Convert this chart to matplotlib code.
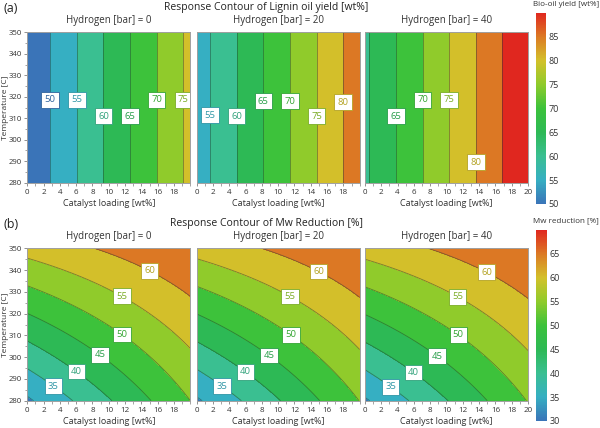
import numpy as np
import matplotlib
matplotlib.use("Agg")
import matplotlib.pyplot as plt
from matplotlib.colors import LinearSegmentedColormap, Normalize, to_rgb
from matplotlib.cm import ScalarMappable
from matplotlib.ticker import MultipleLocator

plt.rcParams['font.family'] = ['Open Sans', 'DejaVu Sans']

# ---------------- data (response-surface models) ----------------
hydrogen_bar = [0, 20, 40]
catalyst_range = [0, 20]          # wt%
temperature_range = [280, 350]    # C

# Lignin oil yield [wt%] = intercept(H) + slope * catalyst  (no temperature effect)
yield_intercept = [45.7, 52.5, 59.2]
yield_slope_catalyst = 1.53

# Mw reduction [%] = b0 + bC*C + bT*(T-280) + bCT*C*(T-280) + bH*H
mw_b0 = 29.2
mw_bC = 1.04
mw_bT = 0.394
mw_bCT = -0.00927
mw_bH = 0.005

yield_levels = [50, 55, 60, 65, 70, 75, 80, 85]
mw_levels = [30, 35, 40, 45, 50, 55, 60, 65]
yield_cbar_ticks = [50, 55, 60, 65, 70, 75, 80, 85]
mw_cbar_ticks = [30, 35, 40, 45, 50, 55, 60, 65]

# label positions (catalyst, temperature) per panel
yield_label_pos = [
    [(2.8, 318.5), (6.0, 318.5), (9.3, 311), (12.6, 311), (15.9, 318.5), (19.1, 318.5)],
    [(1.6, 311.5), (4.9, 311), (8.2, 318), (11.4, 318), (14.7, 311), (18.0, 317.5)],
    [(3.8, 311), (7.0, 318.5), (10.3, 318.5), (13.5, 289.5)],
]
mw_label_pos = [
    [(14.9, 339), (11.6, 328), (11.7, 311), (8.95, 301.3), (6.1, 293.8), (3.3, 287.2)],
    [(14.9, 339), (11.5, 328), (11.7, 311), (8.95, 301.3), (6.1, 293.8), (3.2, 287.2)],
    [(14.9, 339), (11.4, 328), (11.6, 311), (9.0, 301.3), (6.1, 293.8), (3.3, 287.2)],
]

# ---------------- colormap ----------------
cmap = LinearSegmentedColormap.from_list("jmp", [
    (0.000, "#3a74b8"),
    (0.125, "#36afc2"),
    (0.250, "#3abf91"),
    (0.375, "#2db955"),
    (0.500, "#3cc23b"),
    (0.625, "#8fcb2b"),
    (0.750, "#d3c12a"),
    (0.875, "#dc7a24"),
    (1.000, "#e0271f"),
])

W, H = 600, 428
fig = plt.figure(figsize=(W / 100, H / 100), dpi=100)


def fx(px):
    return px / W


def fy(py):
    return 1 - py / H


panel_left = [27.3, 196.7, 365.0]
panel_w = 163.0

C = np.linspace(catalyst_range[0], catalyst_range[1], 241)
T = np.linspace(temperature_range[0], temperature_range[1], 211)
CC, TT = np.meshgrid(C, T)

tick_col = "#808080"
txt_col = "#333333"


def style_axes(ax, i, show_20):
    ax.set_xlim(0, 20)
    ax.set_ylim(280, 350)
    ax.xaxis.set_minor_locator(MultipleLocator(1))
    if show_20:
        ax.set_xticks(np.arange(0, 21, 2))
    else:
        ax.set_xticks(np.arange(0, 19, 2))
    ax.tick_params(axis='x', which='major', length=2.5, width=0.6, color=tick_col,
                   labelsize=5.8, pad=2, labelcolor=txt_col)
    ax.tick_params(axis='x', which='minor', length=1.8, width=0.5, color=tick_col)
    if i == 0:
        ax.yaxis.set_major_locator(MultipleLocator(10))
        ax.yaxis.set_minor_locator(MultipleLocator(5))
        ax.tick_params(axis='y', which='major', length=2.5, width=0.6, color=tick_col,
                       labelsize=5.6, pad=1.3, labelcolor=txt_col)
        ax.tick_params(axis='y', which='minor', length=1.8, width=0.5, color=tick_col)
        ax.set_ylabel("Temperature [C]", fontsize=6.0, color=txt_col, va='center')
        ax.yaxis.set_label_coords((5.2 - panel_left[0]) / panel_w, 0.5)
    else:
        ax.set_yticks([])
    for s in ax.spines.values():
        s.set_color("#a0a0a0")
        s.set_linewidth(0.7)
    ax.set_xlabel("Catalyst loading [wt%]", fontsize=6.5, labelpad=2, color=txt_col)


def draw_row(top_px, bot_px, zfun, levels, vmin, vmax, label_pos, cbar_ticks,
             cbar_box, cbar_label, cbar_label_y, letter, title, title_y, sub_y):
    norm = Normalize(vmin, vmax)
    step = levels[1] - levels[0]
    fill_levels = [levels[0] - 2 * step] + list(levels) + [vmax + step]
    band_colors = [cmap(norm(min(b, vmax))) for b in fill_levels[1:]]
    for i, h in enumerate(hydrogen_bar):
        ax = fig.add_axes([fx(panel_left[i]), fy(bot_px), fx(panel_w), (bot_px - top_px) / H])
        Z = zfun(i, h)
        ax.contourf(CC, TT, Z, levels=fill_levels, colors=band_colors)
        cs = ax.contour(CC, TT, Z, levels=levels, colors="#1c3a34", linewidths=0.6, alpha=0.5)
        texts = ax.clabel(cs, inline=False, fontsize=6.8, fmt='%d', manual=label_pos[i])
        for t in texts:
            lev = float(t.get_text())
            col = np.array(to_rgb(cmap(norm(lev)))) * 0.85
            t.set_rotation(0)
            t.set_color(col)
            t.set_bbox(dict(boxstyle="square,pad=0.35", fc="white", ec=col, lw=0.6))
            t.set_zorder(10)
        style_axes(ax, i, i == 2)
        fig.text(fx(panel_left[i] + panel_w / 2), fy(sub_y), f"Hydrogen [bar] = {h}",
                 ha='center', va='center', fontsize=7, color=txt_col)
    cax = fig.add_axes([fx(cbar_box[0]), fy(cbar_box[3]), fx(cbar_box[2] - cbar_box[0]),
                        (cbar_box[3] - cbar_box[1]) / H])
    cb = fig.colorbar(ScalarMappable(norm=norm, cmap=cmap), cax=cax)
    cb.set_ticks(cbar_ticks)
    cb.outline.set_visible(False)
    cax.tick_params(length=0, labelsize=6.5, pad=2, labelcolor=txt_col)
    fig.text(fx(533), fy(cbar_label_y), cbar_label, ha='left', va='center',
             fontsize=5.8, color=txt_col)
    fig.text(fx(3), fy(title_y + 1), letter, ha='left', va='center', fontsize=9, color="#222222")
    fig.text(fx(266), fy(title_y), title, ha='center', va='center', fontsize=7.5, color="#222222")


def yield_fun(i, h):
    return yield_intercept[i] + yield_slope_catalyst * CC + 0 * TT


def mw_fun(i, h):
    dT = TT - 280
    return mw_b0 + mw_bC * CC + mw_bT * dT + mw_bCT * CC * dT + mw_bH * h


draw_row(32.3, 182.7, yield_fun, yield_levels, 50, 90, yield_label_pos, yield_cbar_ticks,
         (535.5, 12.7, 545.5, 204.0), "Bio-oil yield [wt%]", 5,
         "(a)", "Response Contour of Lignin oil yield [wt%]", 7.5, 20.7)
draw_row(248.3, 400.7, mw_fun, mw_levels, 30, 70, mw_label_pos, mw_cbar_ticks,
         (536.0, 230.0, 546.5, 421.0), "Mw reduction [%]", 221,
         "(b)", "Response Contour of Mw Reduction [%]", 223.5, 237)

fig.savefig("out.png", dpi=100)
